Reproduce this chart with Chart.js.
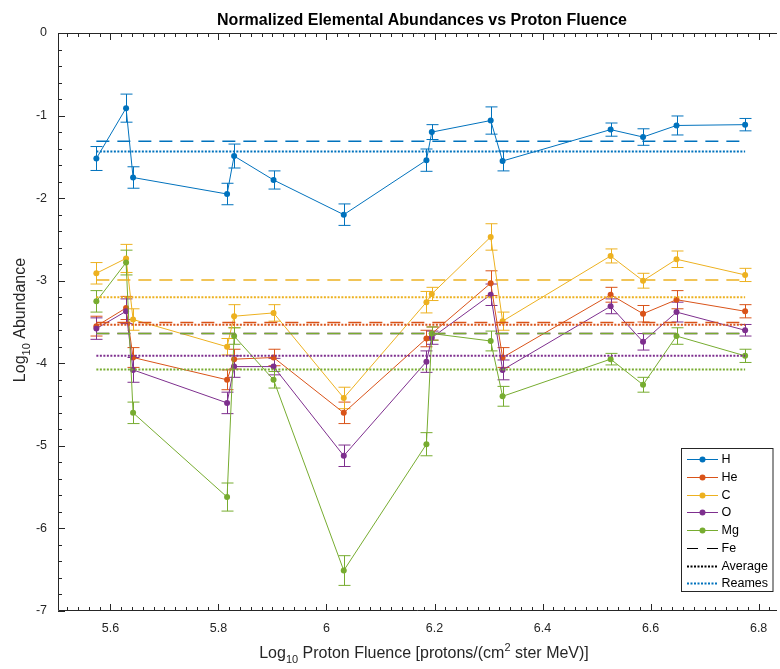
<!DOCTYPE html>
<html>
<head>
<meta charset="utf-8">
<script src="https://cdn.jsdelivr.net/npm/chart.js@4.4.1/dist/chart.umd.min.js"></script>
<style>
  html, body { margin: 0; padding: 0; background: #fff; }
</style>
</head>
<body>
<canvas id="chart" width="780" height="669"></canvas>
<script>
// log10 proton fluence, shared by every element
const fluence = [5.574, 5.629, 5.642, 5.816, 5.829, 5.902, 6.032, 6.185, 6.195, 6.304, 6.326, 6.526, 6.586, 6.648, 6.775];

const elements = ['H', 'He', 'C', 'O', 'Mg'];
const colors = ['#0072BD', '#D95319', '#EDB120', '#7E2F8E', '#77AC30'];

const hVals  = [-1.52, -0.91, -1.75, -1.95, -1.49, -1.78, -2.20, -1.54, -1.20, -1.06, -1.55, -1.17, -1.26, -1.12, -1.11];
const heVals = [-3.55, -3.33, -3.93, -4.20, -3.95, -3.93, -4.60, -3.70, -3.64, -3.03, -3.93, -3.17, -3.40, -3.23, -3.37];
const cVals  = [-2.91, -2.73, -3.47, -3.80, -3.43, -3.39, -4.42, -3.26, -3.16, -2.47, -3.49, -2.70, -3.00, -2.74, -2.93];
const oVals  = [-3.58, -3.37, -4.08, -4.48, -4.04, -4.04, -5.12, -3.98, -3.69, -3.17, -4.08, -3.31, -3.74, -3.38, -3.60];
const mgVals = [-3.25, -2.78, -4.60, -5.62, -3.67, -4.20, -6.51, -4.98, -3.64, -3.73, -4.40, -3.95, -4.26, -3.67, -3.91];

const hErr  = [0.145, 0.17, 0.13, 0.13, 0.145, 0.11, 0.13, 0.135, 0.09, 0.165, 0.12, 0.08, 0.10, 0.115, 0.075];
const heErr = [0.12, 0.14, 0.12, 0.12, 0.12, 0.10, 0.13, 0.10, 0.08, 0.15, 0.12, 0.09, 0.10, 0.11, 0.08];
const cErr  = [0.13, 0.17, 0.13, 0.10, 0.14, 0.10, 0.13, 0.13, 0.08, 0.16, 0.11, 0.085, 0.09, 0.10, 0.08];
const oErr  = [0.13, 0.15, 0.15, 0.13, 0.13, 0.10, 0.13, 0.13, 0.08, 0.13, 0.12, 0.09, 0.10, 0.12, 0.07];
const mgErr = [0.13, 0.15, 0.13, 0.17, 0.10, 0.10, 0.18, 0.14, 0.08, 0.12, 0.12, 0.07, 0.09, 0.10, 0.08];

// horizontal reference levels per element
const feLevels      = [-1.31, -3.505, -2.99, -3.64, -3.64];
const averageLevels = [-1.435, -3.533, -3.20, -3.91, -4.075];

const xTicks = [5.6, 5.8, 6.0, 6.2, 6.4, 6.6, 6.8];
const yTicks = [-7, -6, -5, -4, -3, -2, -1, 0];

const legendLabels = ['H', 'He', 'C', 'O', 'Mg', 'Fe', 'Average', 'Reames'];

const series = [hVals, heVals, cVals, oVals, mgVals];
const errors = [hErr, heErr, cErr, oErr, mgErr];

const FONT = "'Liberation Sans', Arial, Helvetica, sans-serif";
const AXIS = '#262626';

const datasets = [];
let seq = 0;
elements.forEach((name, i) => {
  datasets.push({
    label: name,
    data: fluence.map((x, j) => ({ x, y: series[i][j] })),
    showLine: true,
    borderColor: colors[i],
    backgroundColor: colors[i],
    borderWidth: 1,
    pointRadius: 3,
    pointHoverRadius: 3,
    pointBorderWidth: 0,
    order: 100 - seq++,
  });
});
const first = fluence[0], last = fluence[fluence.length - 1];
elements.forEach((name, i) => {
  datasets.push({
    label: name + ' Fe',
    data: [{ x: first, y: feLevels[i] }, { x: last, y: feLevels[i] }],
    showLine: true,
    borderColor: colors[i],
    borderWidth: 1.5,
    borderDash: [13, 8],
    pointRadius: 0,
    order: 100 - seq++,
  });
});
elements.forEach((name, i) => {
  datasets.push({
    label: name + ' avg',
    data: [{ x: first, y: averageLevels[i] }, { x: last, y: averageLevels[i] }],
    showLine: true,
    borderColor: colors[i],
    borderWidth: 2,
    borderDash: [2, 1.5],
    pointRadius: 0,
    order: 100 - seq++,
  });
});

function drawRich(ctx, parts, x, y) {
  // parts: [text, kind] kind = 'n' | 'sub' | 'sup'; centred on x
  const size = { n: 16, sub: 11, sup: 11 };
  const shift = { n: 0, sub: 5, sup: -7 };
  let total = 0;
  parts.forEach(([t, k]) => { ctx.font = size[k] + 'px ' + FONT; total += ctx.measureText(t).width; });
  let cx = x - total / 2;
  ctx.textAlign = 'left';
  ctx.textBaseline = 'alphabetic';
  parts.forEach(([t, k]) => {
    ctx.font = size[k] + 'px ' + FONT;
    ctx.fillText(t, cx, y + shift[k]);
    cx += ctx.measureText(t).width;
  });
}

const matlabLook = {
  id: 'matlabLook',
  beforeDatasetsDraw(chart) {
    const { ctx, scales: { x, y } } = chart;
    ctx.save();
    ctx.lineWidth = 1;
    series.forEach((vals, i) => {
      ctx.strokeStyle = colors[i];
      vals.forEach((v, j) => {
        const px = Math.round(x.getPixelForValue(fluence[j])) + 0.5;
        const top = y.getPixelForValue(v + errors[i][j]);
        const bot = y.getPixelForValue(v - errors[i][j]);
        ctx.beginPath();
        ctx.moveTo(px, top); ctx.lineTo(px, bot);
        ctx.moveTo(px - 6, top); ctx.lineTo(px + 6, top);
        ctx.moveTo(px - 6, bot); ctx.lineTo(px + 6, bot);
        ctx.stroke();
      });
    });
    ctx.restore();
  },
  afterDraw(chart) {
    const { ctx, chartArea: a, scales: { x, y } } = chart;
    ctx.save();
    // axes box (right edge falls outside the picture)
    ctx.strokeStyle = AXIS;
    ctx.lineWidth = 1;
    ctx.beginPath();
    ctx.moveTo(a.right, a.top + 0.5); ctx.lineTo(a.left + 0.5, a.top + 0.5);
    ctx.lineTo(a.left + 0.5, a.bottom - 0.5); ctx.lineTo(a.right, a.bottom - 0.5);
    ctx.stroke();

    // inward ticks
    ctx.beginPath();
    for (let k = 0; k <= 70; k++) {
      const v = 5.5 + k * 0.02;
      if (v < x.min || v > x.max) continue;
      const len = k % 10 === 5 ? 7 : 4;
      const px = Math.round(x.getPixelForValue(v)) + 0.5;
      ctx.moveTo(px, a.bottom); ctx.lineTo(px, a.bottom - len);
      ctx.moveTo(px, a.top); ctx.lineTo(px, a.top + len);
    }
    for (let k = 0; k <= 35; k++) {
      const v = -7 + k * 0.2;
      const len = k % 5 === 0 ? 7 : 4;
      const py = Math.round(y.getPixelForValue(v)) + 0.5;
      ctx.moveTo(a.left, py); ctx.lineTo(a.left + len, py);
    }
    ctx.stroke();

    // title and axis labels
    ctx.fillStyle = '#000';
    ctx.font = 'bold 16px ' + FONT;
    ctx.textAlign = 'center';
    ctx.textBaseline = 'alphabetic';
    ctx.fillText('Normalized Elemental Abundances vs Proton Fluence', 422, 25);

    ctx.fillStyle = AXIS;
    drawRich(ctx, [['Log', 'n'], ['10', 'sub'], [' Proton Fluence [protons/(cm', 'n'], ['2', 'sup'], [' ster MeV)]', 'n']], 424, 658);
    ctx.save();
    ctx.translate(25, 320);
    ctx.rotate(-Math.PI / 2);
    drawRich(ctx, [['Log', 'n'], ['10', 'sub'], [' Abundance', 'n']], 0, 0);
    ctx.restore();

    // legend
    const bx = 681.5, by = 448.5, bw = 91.5, bh = 143;
    ctx.fillStyle = '#fff';
    ctx.fillRect(bx, by, bw, bh);
    ctx.strokeStyle = AXIS;
    ctx.lineWidth = 1;
    ctx.strokeRect(bx, by, bw, bh);
    ctx.font = '12.5px ' + FONT;
    ctx.textBaseline = 'middle';
    ctx.textAlign = 'left';
    legendLabels.forEach((label, i) => {
      const ly = Math.round(459 + i * 17.75) + 0.5;
      const col = i < 5 ? colors[i] : (i === 7 ? colors[0] : '#000');
      ctx.strokeStyle = col;
      ctx.setLineDash(i === 5 ? [11, 9] : (i > 5 ? [2, 1.5] : []));
      ctx.lineWidth = i > 5 ? 2 : 1;
      ctx.beginPath();
      ctx.moveTo(687, ly); ctx.lineTo(718, ly);
      ctx.stroke();
      ctx.setLineDash([]);
      if (i < 5) {
        ctx.fillStyle = col;
        ctx.beginPath();
        ctx.arc(702.5, ly, 3, 0, Math.PI * 2);
        ctx.fill();
      }
      ctx.fillStyle = '#000';
      ctx.fillText(label, 721.5, ly + 0.5);
    });
    ctx.restore();
  }
};

new Chart(document.getElementById('chart'), {
  type: 'scatter',
  data: { datasets },
  options: {
    responsive: false,
    animation: false,
    devicePixelRatio: 1,
    layout: { padding: { top: 33, right: 0, left: 0, bottom: 0 } },
    plugins: { legend: { display: false }, tooltip: { enabled: false } },
    scales: {
      x: {
        type: 'linear',
        min: 5.503,
        max: 6.834,
        afterFit(scale) { scale.height = 58; },
        afterBuildTicks(scale) { scale.ticks = xTicks.map(v => ({ value: v })); },
        grid: { display: false, drawTicks: false },
        border: { display: false },
        ticks: {
          padding: 10,
          color: AXIS,
          font: { family: FONT, size: 12.5 },
          maxRotation: 0,
          callback: v => String(Math.round(v * 10) / 10),
        },
      },
      y: {
        type: 'linear',
        min: -7,
        max: 0,
        afterFit(scale) { scale.width = 58; },
        afterBuildTicks(scale) { scale.ticks = yTicks.map(v => ({ value: v })); },
        grid: { display: false, drawTicks: false },
        border: { display: false },
        ticks: {
          padding: 11,
          color: AXIS,
          font: { family: FONT, size: 12.5 },
          callback: v => String(v),
        },
      },
    },
  },
  plugins: [matlabLook],
});
</script>
</body>
</html>
